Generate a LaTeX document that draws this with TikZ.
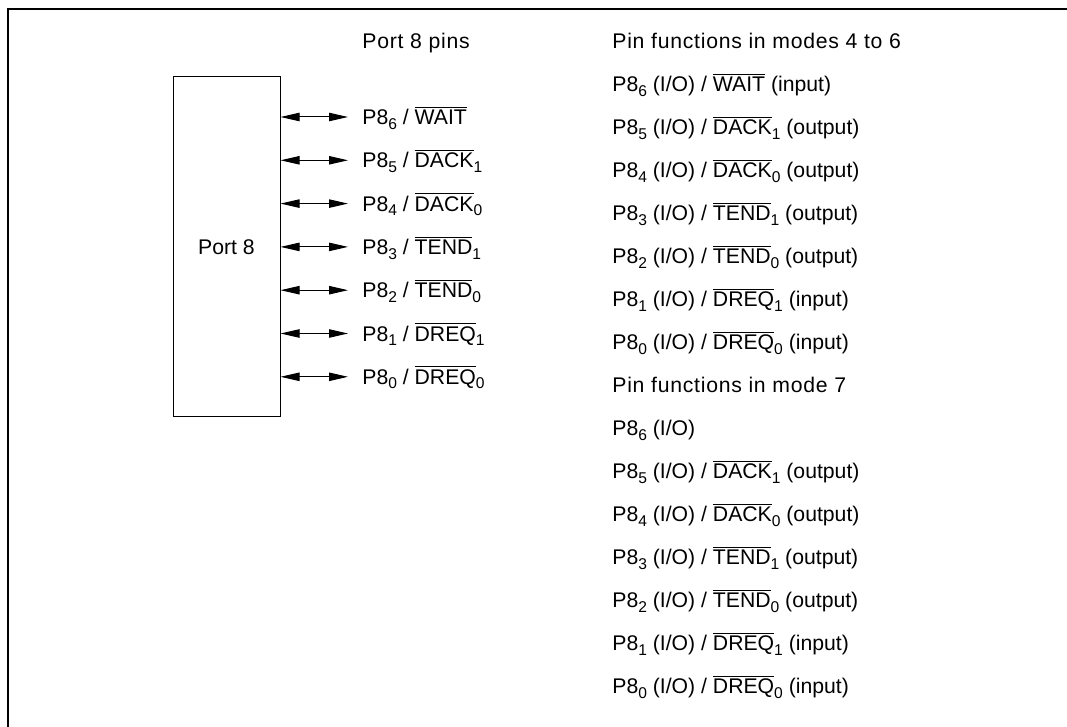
\documentclass[tikz,border=0pt]{standalone}
\usepackage{fontspec}
\setmainfont{Liberation Sans}
\newfontfamily\headfont[LetterSpace=3.5]{Liberation Sans}
\usetikzlibrary{arrows.meta, positioning}
\newcommand{\nbar}[1]{$\overline{\mbox{#1}}$}
\newcommand{\lowidx}[1]{\raisebox{-2.3pt}{\fontsize{7.8}{8}\selectfont #1}}
\newcommand{\pin}[1]{P8\lowidx{#1}}

\begin{document}
\begin{tikzpicture}[x=0.5pt, y=-0.5pt, font=\fontsize{10.6}{12}\selectfont,
    pinlabel/.style={anchor=base west, inner sep=0pt},
    pinarrow/.style={{Triangle[length=9.5pt, width=4.2pt]}-{Triangle[length=9.5pt, width=4.2pt]},
                     line width=0.5pt}]
  \useasboundingbox (0,0) rectangle (1067,727);
  % frame, open to the right and below
  \draw[line width=1pt] (8,727) -- (8,9) -- (1067,9);

  \node (port) [draw, line width=0.5pt, minimum width=53.5pt,
        minimum height=170pt] at (226.5,247) {Port 8};
  \node (hdpins) [pinlabel] at (362,48.6) {\headfont Port 8 pins};

  \foreach \n/\sig/\sub [count=\k from 0] in {6/WAIT/, 5/DACK/1, 4/DACK/0,
      3/TEND/1, 2/TEND/0, 1/DREQ/1, 0/DREQ/0} {
    \coordinate (tip\k) at (348,{117+43.3*\k});
    \node (pin\k) [pinlabel] at (362,{124.6+43.3*\k})
      {\pin{\n} / \nbar{\sig}\lowidx{\sub}};
    \draw[pinarrow] (port.east |- tip\k) -- (tip\k);
  }

  % right column
  \node (hdmodea) [pinlabel] at (612,48.6) {\headfont Pin functions in modes 4 to 6};
  \foreach \n/\sig/\sub/\dir [count=\k] in {6/WAIT//input, 5/DACK/1/output,
      4/DACK/0/output, 3/TEND/1/output, 2/TEND/0/output, 1/DREQ/1/input,
      0/DREQ/0/input} {
    \node (fa\k) [pinlabel] at (612,{48.6+43*\k})
      {\pin{\n} (I/O) / \nbar{\sig}\lowidx{\sub} (\dir)};
  }

  \node (hdmodeb) [pinlabel] at (612,392.6) {\headfont Pin functions in mode 7};
  \node (fb6) [pinlabel] at (612,435.6) {\pin{6} (I/O)};
  \foreach \n/\sig/\sub/\dir [count=\k from 2] in {5/DACK/1/output,
      4/DACK/0/output, 3/TEND/1/output, 2/TEND/0/output, 1/DREQ/1/input,
      0/DREQ/0/input} {
    \node (fb\n) [pinlabel] at (612,{392.6+43*\k})
      {\pin{\n} (I/O) / \nbar{\sig}\lowidx{\sub} (\dir)};
  }
\end{tikzpicture}
\end{document}
